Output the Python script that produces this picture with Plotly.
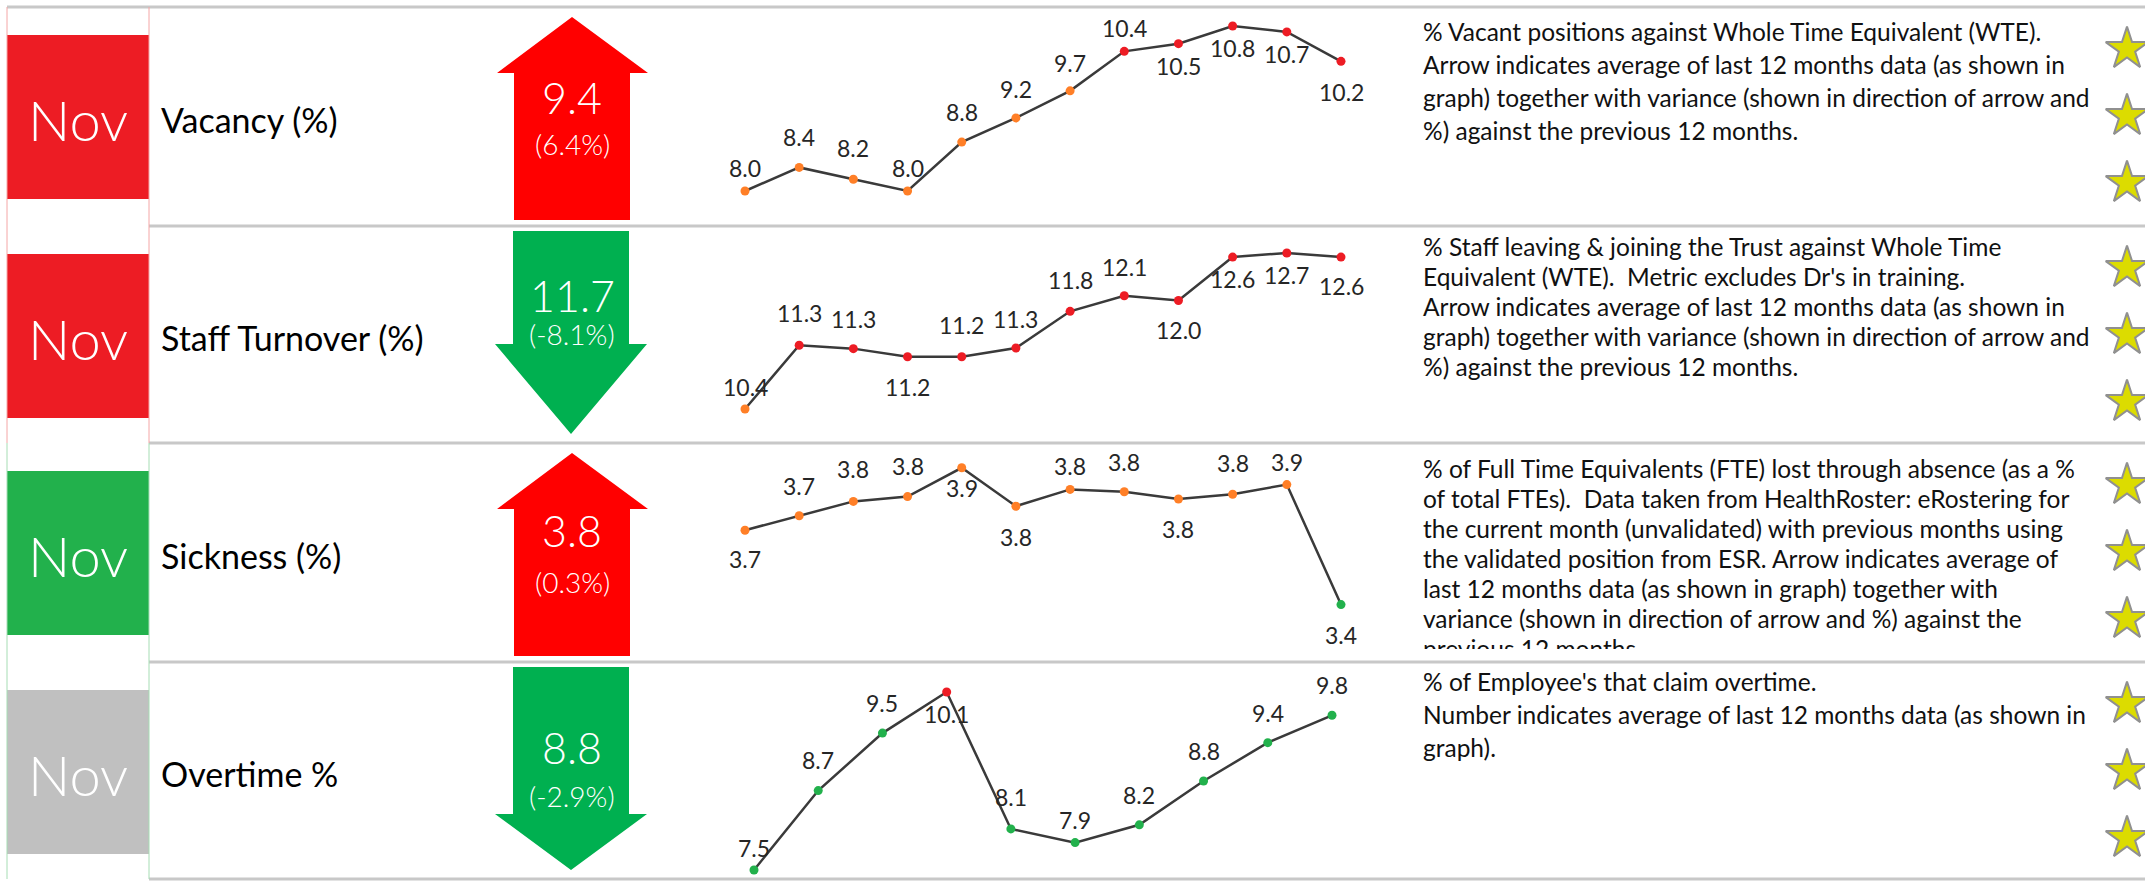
import plotly.graph_objects as go

W, H = 2145, 896

# ---------------- data ----------------
period_label = "Nov"
metric_names = ["Vacancy (%)", "Staff Turnover (%)", "Sickness (%)", "Overtime %"]
period_rag = ["red", "red", "green", "grey"]
avg_12m = [9.4, 11.7, 3.8, 8.8]
variance_12m = [6.4, -8.1, 0.3, -2.9]
arrow_direction = ["up", "down", "up", "down"]
arrow_rag = ["red", "green", "red", "green"]

months_12 = ["Dec", "Jan", "Feb", "Mar", "Apr", "May", "Jun", "Jul", "Aug", "Sep", "Oct", "Nov"]
months_10 = months_12[2:]

vacancy_values = [8.0, 8.4, 8.2, 8.0, 8.83, 9.24, 9.7, 10.37, 10.5, 10.8, 10.7, 10.2]
vacancy_rag = ["amber"] * 7 + ["red"] * 5
turnover_values = [10.4, 11.34, 11.29, 11.17, 11.17, 11.3, 11.84, 12.07, 12.0, 12.64, 12.7, 12.64]
turnover_rag = ["amber"] + ["red"] * 11
sickness_values = [3.67, 3.73, 3.79, 3.81, 3.93, 3.77, 3.84, 3.83, 3.80, 3.82, 3.86, 3.36]
sickness_rag = ["amber"] * 11 + ["green"]
overtime_values = [7.5, 8.66, 9.5, 10.1, 8.1, 7.9, 8.16, 8.8, 9.36, 9.76]
overtime_rag = ["green"] * 3 + ["red"] + ["green"] * 6

descriptions = [
    ["% Vacant positions against Whole Time Equivalent (WTE).",
     "Arrow indicates average of last 12 months data (as shown in",
     "graph) together with variance (shown in direction of arrow and",
     "%) against the previous 12 months."],
    ["% Staff leaving & joining the Trust against Whole Time",
     "Equivalent (WTE).  Metric excludes Dr's in training.",
     "Arrow indicates average of last 12 months data (as shown in",
     "graph) together with variance (shown in direction of arrow and",
     "%) against the previous 12 months."],
    ["% of Full Time Equivalents (FTE) lost through absence (as a %",
     "of total FTEs).  Data taken from HealthRoster: eRostering for",
     "the current month (unvalidated) with previous months using",
     "the validated position from ESR. Arrow indicates average of",
     "last 12 months data (as shown in graph) together with",
     "variance (shown in direction of arrow and %) against the",
     "previous 12 months."],
    ["% of Employee's that claim overtime.",
     "Number indicates average of last 12 months data (as shown in",
     "graph)."],
]
stars_per_row = [3, 3, 3, 3]

series = [
    (months_12, vacancy_values, vacancy_rag),
    (months_12, turnover_values, turnover_rag),
    (months_12, sickness_values, sickness_rag),
    (months_10, overtime_values, overtime_rag),
]

# ---------------- layout / style ----------------
FONT = "Lato"
RAG = {"red": "#ED1C24", "green": "#22B14C", "grey": "#C0C0C0", "amber": "#FF7F27"}
ARROW = {"red": "#FF0000", "green": "#00B050"}
row_lines = [7, 226, 443, 662, 879]

# sparkline pixel calibration: (first idx px, last idx px), (v1, px1, v2, px2)
spark_x_px = [(745, 1341), (745, 1341), (745, 1341), (754, 1332)]
spark_y_px = [(8.0, 191, 10.8, 26), (10.4, 409, 12.7, 253),
              (3.85, 487, 3.35, 607), (7.5, 870, 10.1, 692)]
label_dy = [
    [23, 30, 31, 23, 30, 29, 28, 23, -22, -22, -22, -31],
    [22, 32, 30, -30, 32, 29, 31, 29, -30, -22, -22, -29],
    [-29, 30, 32, 31, -20, -31, 23, 30, -30, 31, 23, -30],
    [22, 31, 30, -22, 32, 23, 30, 30, 30, 30],
]
arrow_text_dy = [(90, 137), (69, 108), (87, 139), (85, 134)]
desc_first = [28, 24, 29, 23]
desc_spacing = [33, 30, 30, 33]
desc_clip = [0, 0, 11, 0]
star_dy = [42, 109, 176]


def lin_range(v1, p1, v2, p2, d0, d1):
    s = (p2 - p1) / (v2 - v1)
    return v1 + (d0 - p1) / s, v1 + (d1 - p1) / s


fig = go.Figure()
layout = dict(
    width=W, height=H, margin=dict(l=0, r=0, t=0, b=0),
    paper_bgcolor="white", plot_bgcolor="rgba(0,0,0,0)",
    showlegend=False, hovermode=False, font=dict(family=FONT),
    xaxis=dict(domain=[0, 1], range=[0, W], visible=False, fixedrange=True),
    yaxis=dict(domain=[0, 1], range=[H, 0], visible=False, fixedrange=True),
)
shapes = []
annotations = []

# row separator lines
for i, yv in enumerate(row_lines):
    shapes.append(dict(type="line", xref="x", yref="y", x0=7 if i == 0 else 149, x1=W,
                       y0=yv, y1=yv, line=dict(color="#C8C8C8", width=3)))
# left cell borders
for xv in (7, 149):
    shapes.append(dict(type="line", xref="x", yref="y", x0=xv, x1=xv, y0=7, y1=443,
                       line=dict(color="#F4A6A6", width=1)))
    shapes.append(dict(type="line", xref="x", yref="y", x0=xv, x1=xv, y0=443, y1=879,
                       line=dict(color="#A6DDB4", width=1)))

for r in range(4):
    T, B = row_lines[r], row_lines[r + 1]
    # period RAG box
    shapes.append(dict(type="rect", xref="x", yref="y", x0=7, x1=149, y0=T + 28, y1=T + 192,
                       fillcolor=RAG[period_rag[r]], line=dict(width=0), layer="below"))
    annotations.append(dict(xref="x", yref="y", x=78, y=T + 112, text=period_label,
                            showarrow=False, font=dict(family=FONT, size=56, color="white", weight=300)))
    annotations.append(dict(xref="x", yref="y", x=159, y=(T + B) / 2 + 3, text=metric_names[r],
                            xanchor="left", showarrow=False,
                            font=dict(family=FONT, size=34, color="black")))
    # arrow
    if arrow_direction[r] == "up":
        p = (f"M 514 {T+213} L 514 {T+66} L 497 {T+66} L 572 {T+10} L 648 {T+66} "
             f"L 630 {T+66} L 630 {T+213} Z")
    else:
        hb = T + 118 if r == 1 else T + 152
        p = (f"M 513 {T+5} L 629 {T+5} L 629 {hb} L 647 {hb} L 571 {T+208} "
             f"L 495 {hb} L 513 {hb} Z")
    shapes.append(dict(type="path", xref="x", yref="y", path=p,
                       fillcolor=ARROW[arrow_rag[r]], line=dict(width=0), layer="below"))
    dv, dp = arrow_text_dy[r]
    annotations.append(dict(xref="x", yref="y", x=572, y=T + dv, text=f"{avg_12m[r]:.1f}",
                            showarrow=False, font=dict(family=FONT, size=43, color="white", weight=300)))
    annotations.append(dict(xref="x", yref="y", x=572, y=T + dp, text=f"({variance_12m[r]:.1f}%)",
                            showarrow=False, font=dict(family=FONT, size=28, color="white", weight=300)))

    # sparkline subplot
    n = 2 + r
    cats, vals, rag = series[r]
    x0, x1 = 700, 1400
    xr = lin_range(0, spark_x_px[r][0], len(cats) - 1, spark_x_px[r][1], x0, x1)
    v1, p1, v2, p2 = spark_y_px[r]
    top_v, bot_v = lin_range(v1, p1, v2, p2, T, B)
    layout[f"xaxis{n}"] = dict(domain=[x0 / W, x1 / W], range=list(xr), type="category",
                               categoryorder="array", categoryarray=cats,
                               visible=False, fixedrange=True, anchor=f"y{n}")
    layout[f"yaxis{n}"] = dict(domain=[1 - B / H, 1 - T / H], range=[bot_v, top_v],
                               visible=False, fixedrange=True, anchor=f"x{n}")
    fig.add_trace(go.Scatter(x=cats, y=vals, mode="lines+markers", xaxis=f"x{n}", yaxis=f"y{n}",
                             line=dict(color="#3A3A3A", width=2.5),
                             marker=dict(size=9, color=[RAG[c] for c in rag]),
                             cliponaxis=False))
    for i, v in enumerate(vals):
        annotations.append(dict(xref=f"x{n}", yref=f"y{n}", x=i, y=v, yshift=label_dy[r][i],
                                text=f"{v:.1f}", showarrow=False,
                                font=dict(family=FONT, size=23, color="#262626")))

    # description subplot (clipped to cell)
    m = 6 + r
    dx0, dx1 = 1415, 2104
    db = B - 2 - desc_clip[r]
    layout[f"xaxis{m}"] = dict(domain=[dx0 / W, dx1 / W], range=[0, dx1 - dx0],
                               visible=False, fixedrange=True, anchor=f"y{m}")
    layout[f"yaxis{m}"] = dict(domain=[1 - db / H, 1 - T / H], range=[db - T, 0],
                               visible=False, fixedrange=True, anchor=f"x{m}")
    lines = descriptions[r]
    fig.add_trace(go.Scatter(x=[8] * len(lines),
                             y=[desc_first[r] + k * desc_spacing[r] for k in range(len(lines))],
                             text=lines, mode="text", textposition="middle right",
                             textfont=dict(family=FONT, size=24.5, color="#111111"),
                             xaxis=f"x{m}", yaxis=f"y{m}", cliponaxis=True))

    # stars
    fig.add_trace(go.Scatter(x=[2127] * stars_per_row[r],
                             y=[T + d for d in star_dy[:stars_per_row[r]]],
                             mode="markers", xaxis="x", yaxis="y", cliponaxis=True,
                             marker=dict(symbol="star", size=32, color="#DCDC00",
                                         line=dict(color="#909090", width=2))))

layout["shapes"] = shapes
layout["annotations"] = annotations
fig.update_layout(**layout)

fig.write_html("out.html", config={"displayModeBar": False},
               post_script="document.body.style.margin='0';document.body.style.overflow='hidden';")
